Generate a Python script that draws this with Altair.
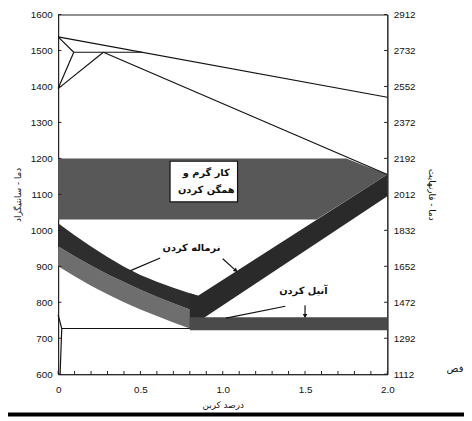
import altair as alt
import pandas as pd

# ---------------- axis ticks / labels ----------------
c_ticks = [600, 700, 800, 900, 1000, 1100, 1200, 1300, 1400, 1500, 1600]
f_ticks = [1112, 1292, 1472, 1652, 1832, 2012, 2192, 2372, 2552, 2732, 2912]
x_labels = [0, 0.5, 1.0, 1.5, 2.0]
x_minor = [0, 0.1, 0.2, 0.3, 0.4, 0.5, 0.6, 0.7, 0.8, 0.9, 1.0,
           1.1, 1.2, 1.3, 1.4, 1.5, 1.6, 1.7, 1.8, 1.9, 2.0]

# ---------------- phase-diagram lines ----------------
seg_id = ["liq", "liq", "dU", "dU", "dL", "dL", "g", "g", "per", "per",
          "sol", "sol", "a1", "a1", "al", "al", "al"]
seg_x = [0, 2.0, 0, 0.095, 0, 0.095, 0, 0.275, 0.095, 0.51,
         0.275, 2.0, 0.022, 0.8, 0, 0.022, 0.012]
seg_y = [1538, 1370, 1538, 1495, 1394, 1495, 1394, 1495, 1495, 1495,
         1495, 1155, 727, 727, 765, 727, 600]

# ---------------- bands ----------------
hw_x = [0, 1.57, 1.75, 2.0]
hw_top = [1200, 1200, 1200, 1155]
hw_bot = [1030, 1030, 1082, 1155]

nm_x = [0, 0.1, 0.2, 0.3, 0.4, 0.5, 0.6, 0.7, 0.8, 0.85]
nm_top = [1020, 986, 955, 926, 899, 876, 857, 840, 825, 818]
nm_mid = [956, 928, 902, 878, 856, 835, 815, 797, 780, 772]
nm_bot = [900, 872, 846, 822, 800, 780, 762, 744, 727, 727]

ac_x = [0.8, 0.85, 2.0]
ac_top = [825, 818, 1155]
ac_bot = [730, 746, 1095]

an_x = [0.8, 2.0]
an_top = [758, 758]
an_bot = [722, 722]

# ---------------- annotations ----------------
txt = ["نرماله کردن", "آنیل کردن", "کار گرم و", "همگن کردن"]
txt_x = [0.81, 1.49, 0.90, 0.90]
txt_y = [951, 830, 1159, 1112]

box_x = [0.68]
box_x2 = [1.09]
box_y = [1079]
box_y2 = [1192]

arr_x = [0.62, 1.0, 1.38, 1.50]
arr_y = [923, 921, 789, 792]
arr_x2 = [0.44, 1.08, 1.02, 1.50]
arr_y2 = [888, 888, 756, 760]

head_x = [1.08, 1.50]
head_y = [888, 762]
head_angle = [133, 180]

# ---------------- scales / axes ----------------
xscale = alt.Scale(domain=[0, 2.0], nice=False, zero=False)
yscale = alt.Scale(domain=[600, 1600], nice=False, zero=False)

common_axis = dict(ticks=False, grid=False, domainColor="#222",
                   labelFont="Liberation Sans", labelFontSize=10, labelColor="#111",
                   titleFont="DejaVu Sans", titleFontSize=9, titleFontWeight="normal",
                   titleColor="#111")

xaxis = alt.Axis(values=x_labels,
                 labelExpr="datum.value == 0 ? '0' : format(datum.value, '.1f')",
                 title="درصد کربن", labelFlush=False, labelPadding=11,
                 titlePadding=6, **common_axis)
yaxis = alt.Axis(values=c_ticks, format="d", title="دما - سانتیگراد",
                 labelPadding=6, titlePadding=8, **common_axis)


def X(f):
    return alt.X(f, type="quantitative", scale=xscale, axis=xaxis)


def Y(f):
    return alt.Y(f, type="quantitative", scale=yscale, axis=yaxis)


def band(xs, top, bot, color):
    df = pd.DataFrame({"x": xs, "top": top, "bot": bot})
    return alt.Chart(df).mark_area(color=color, opacity=1).encode(
        x=X("x"), y=Y("top"), y2=alt.Y2("bot"))


hot = band(hw_x, hw_top, hw_bot, "#585858")
norm_light = band(nm_x, nm_mid, nm_bot, "#6e6e6e")
norm_dark = band(nm_x, nm_top, nm_mid, "#2e2e2e")
acm = band(ac_x, ac_top, ac_bot, "#2a2a2a")
anneal = band(an_x, an_top, an_bot, "#4a4a4a")

seg_df = pd.DataFrame({"id": seg_id, "x": seg_x, "y": seg_y,
                       "o": list(range(len(seg_x)))})
lines = alt.Chart(seg_df).mark_line(color="#111", strokeWidth=1.2).encode(
    x=X("x"), y=Y("y"), detail="id:N", order="o:Q")

# inward ticks
xt_df = pd.DataFrame({"x": x_minor, "y0": [600] * len(x_minor), "y1": [609] * len(x_minor)})
xticks = alt.Chart(xt_df).mark_rule(color="#222", strokeWidth=1).encode(
    x=X("x"), y=Y("y0"), y2=alt.Y2("y1"))
lt_df = pd.DataFrame({"y": c_ticks, "x0": [0] * len(c_ticks), "x1": [0.02] * len(c_ticks)})
lticks = alt.Chart(lt_df).mark_rule(color="#222", strokeWidth=1).encode(
    x=X("x0"), x2=alt.X2("x1"), y=Y("y"))
rt_df = pd.DataFrame({"y": c_ticks, "x0": [1.98] * len(c_ticks), "x1": [2.0] * len(c_ticks)})
rticks = alt.Chart(rt_df).mark_rule(color="#222", strokeWidth=1).encode(
    x=X("x0"), x2=alt.X2("x1"), y=Y("y"))

box_df = pd.DataFrame({"x": box_x, "x2": box_x2, "y": box_y, "y2": box_y2})
box = alt.Chart(box_df).mark_rect(fill="white", stroke="#111", strokeWidth=1.2).encode(
    x=X("x"), x2=alt.X2("x2"), y=Y("y"), y2=alt.Y2("y2"))

txt_df = pd.DataFrame({"t": txt, "x": txt_x, "y": txt_y})
texts = alt.Chart(txt_df).mark_text(font="DejaVu Sans", fontSize=10, fontWeight="bold",
                                    color="#111").encode(
    x=X("x"), y=Y("y"), text="t:N")

arr_df = pd.DataFrame({"x": arr_x, "y": arr_y, "x2": arr_x2, "y2": arr_y2})
arrows = alt.Chart(arr_df).mark_rule(color="#111", strokeWidth=1.2).encode(
    x=X("x"), y=Y("y"), x2=alt.X2("x2"), y2=alt.Y2("y2"))

head_df = pd.DataFrame({"x": head_x, "y": head_y, "a": head_angle})
heads = alt.Chart(head_df).mark_point(shape="triangle-up", filled=True, size=22,
                                      color="#111", opacity=1).encode(
    x=X("x"), y=Y("y"), angle=alt.Angle("a:Q", scale=None))

stray_df = pd.DataFrame({"t": ["فص"], "x": [2.36], "y": [614]})
stray = alt.Chart(stray_df).mark_text(font="DejaVu Sans", fontSize=10, color="#111",
                                      align="left").encode(
    x=X("x"), y=Y("y"), text="t:N")

page_rule = alt.Chart(pd.DataFrame({"a": [0]})).mark_rule(color="black", strokeWidth=4).encode(
    x=alt.value(-59), x2=alt.value(413), y=alt.value(407))

main = alt.layer(hot, norm_light, norm_dark, acm, anneal, lines, xticks, lticks, rticks,
                 box, texts, arrows, heads, stray, page_rule)

right = alt.Chart(pd.DataFrame({"f": f_ticks})).mark_point(opacity=0).encode(
    y=alt.Y("f:Q", scale=alt.Scale(domain=[1112, 2912], nice=False, zero=False),
            axis=alt.Axis(orient="right", values=f_ticks, format="d",
                          title="دما - فارنهایت", labelPadding=6, titlePadding=12,
                          **common_axis)))

chart = alt.layer(main, right).resolve_scale(y="independent").properties(
    width=335, height=366,
    autosize=alt.AutoSizeParams(type="none"),
    padding={"left": 51, "top": 3, "right": 78, "bottom": 44},
).configure_view(stroke="#222", strokeWidth=1)

chart.save("out.html", embed_options={"renderer": "svg", "actions": False})
